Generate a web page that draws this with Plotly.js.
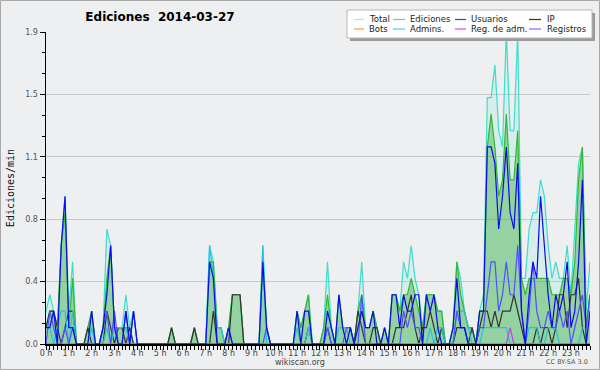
<!DOCTYPE html>
<html>
<head>
<meta charset="utf-8">
<script src="https://cdn.plot.ly/plotly-3.0.1.min.js"></script>
<style>
html,body{margin:0;padding:0;background:#eeeff0;}
#chart{width:600px;height:370px;}
</style>
</head>
<body>
<div id="chart"></div>
<script>
// 10-minute bins, 6 per hour, values in edits per minute
const hourLabels = ["0 h","1 h","2 h","3 h","4 h","5 h","6 h","7 h","8 h","9 h","10 h","11 h",
  "12 h","13 h","14 h","15 h","16 h","17 h","18 h","19 h","20 h","21 h","22 h","23 h"];

const total = [
  0.2,0.3,0.2,0.1,0.6,0.9,  0.2,0.5,0,0,0,0.1,  0.2,0,0,0.1,0.7,0.6,  0.1,0.1,0.1,0.3,0.1,0.2,
  0,0,0,0,0,0,  0,0,0,0.1,0,0,  0,0,0,0.1,0,0,  0,0.6,0.5,0.1,0.1,0,
  0.1,0.3,0.3,0.3,0,0,  0,0,0,0.6,0.1,0,  0,0,0,0,0,0,  0.2,0.1,0.2,0.3,0,0,
  0,0.1,0.5,0.1,0,0.3,  0.1,0.1,0.1,0,0.2,0.5,  0.1,0.1,0.2,0.1,0,0.1,  0,0.3,0.3,0.2,0.5,0.4,
  0.6,0.4,0.3,0.1,0.3,0.3,  0.3,0.2,0.2,0,0,0.1,  0.5,0.4,0.2,0.1,0.1,0,  0.2,0.3,1.5,1.5,1.7,1.3,
  1.2,1.9,1.3,1.3,1.9,0.4,  0.4,0.7,0.8,0.8,1.0,0.9,  0.6,0.4,0.5,0.4,0.4,0.6,  0.3,0.7,1.1,1.2,0.2,0.5
];
const ediciones = [
  0.1,0.2,0.2,0.1,0.6,0.8,  0.1,0.4,0,0,0,0.1,  0.2,0,0,0.1,0.4,0.6,  0.1,0.1,0.1,0.1,0.1,0,
  0,0,0,0,0,0,  0,0,0,0.1,0,0,  0,0,0,0.1,0,0,  0,0.5,0.5,0.1,0.1,0,
  0.1,0.3,0.3,0.3,0,0,  0,0,0,0.5,0.1,0,  0,0,0,0,0,0,  0.2,0.1,0.2,0.3,0,0,
  0,0.1,0.3,0.1,0,0.3,  0.1,0.1,0.1,0,0.2,0.3,  0.1,0.1,0.2,0.1,0,0.1,  0,0.3,0.3,0.2,0.3,0.3,
  0.4,0.3,0.2,0.1,0.3,0.3,  0.3,0.2,0.2,0,0,0.1,  0.5,0.3,0.2,0.1,0.1,0,  0.2,0.2,1.2,1.4,1.2,0.9,
  1.0,1.4,1.0,1.0,1.3,0.4,  0.3,0.4,0.4,0.4,0.4,0.4,  0.4,0.3,0.3,0.3,0.4,0.4,  0.3,0.5,1.0,1.2,0.1,0.3
];
const usuarios = [
  0.1,0.1,0.2,0,0.6,0.9,  0.1,0.1,0,0,0,0,  0.2,0,0,0.1,0.3,0.6,  0.1,0,0,0.2,0,0.2,
  0,0,0,0,0,0,  0,0,0,0,0,0,  0,0,0,0,0,0,  0,0.5,0.4,0,0,0,
  0.1,0,0,0,0,0,  0,0,0,0.5,0.1,0,  0,0,0,0,0,0,  0.2,0,0.2,0.2,0,0,
  0,0,0.2,0.1,0,0.3,  0.1,0,0.1,0,0.1,0.2,  0.1,0.1,0.2,0,0,0.1,  0,0.3,0.3,0.1,0.3,0.2,
  0.2,0.3,0.3,0,0.3,0.2,  0.3,0.1,0,0,0,0.1,  0.4,0.1,0.1,0,0,0,  0.2,0.2,1.2,1.2,1.1,0.7,
  0.9,1.2,0.8,0.7,1.1,0.2,  0,0.3,0.5,0.4,0.9,0.6,  0.3,0.1,0.3,0.2,0.3,0.5,  0.1,0.2,0.5,1.0,0,0.2
];
const ip = [
  0.1,0.2,0.2,0.1,0,0.1,  0.2,0.2,0,0,0,0.1,  0,0,0,0,0.2,0.1,  0,0.1,0.1,0,0.1,0,
  0,0,0,0,0,0,  0,0,0,0.1,0,0,  0,0,0,0.1,0,0,  0,0,0.2,0,0,0,
  0,0.3,0.3,0.3,0,0,  0,0,0,0,0,0,  0,0,0,0,0,0,  0,0,0,0.1,0,0,
  0,0,0.1,0,0,0,  0,0,0,0,0.2,0.1,  0,0,0.1,0.1,0,0,  0,0,0.1,0.1,0.1,0.2,
  0.3,0.1,0,0.1,0.1,0.2,  0.1,0,0.1,0,0,0,  0.1,0.1,0.1,0,0.1,0,  0.1,0.2,0.2,0.1,0.2,0.1,
  0.2,0.2,0.2,0.3,0.2,0.1,  0,0,0,0.1,0,0.1,  0.1,0,0.1,0.3,0.3,0.1,  0.3,0.3,0.4,0.1,0,0
];
const bots = new Array(144).fill(0);
const admins = [
  0.1,0.1,0,0.1,0.2,0.2,  0,0.2,0,0,0,0,  0.1,0,0,0,0.1,0,  0.1,0.1,0.1,0.1,0,0,
  0,0,0,0,0,0,  0,0,0,0,0,0,  0,0,0,0,0,0,  0,0.6,0.4,0.1,0.1,0,
  0,0,0,0,0,0,  0,0,0,0.6,0,0,  0,0,0,0,0,0,  0.1,0,0,0.1,0,0,
  0,0,0.1,0.1,0,0.1,  0.1,0.1,0,0,0,0,  0,0,0,0,0,0,  0,0,0,0,0,0,
  0,0,0,0,0,0.1,  0,0.1,0.1,0,0,0,  0.2,0.2,0.2,0.1,0,0,  0,0.1,0.1,0.1,0.1,0.1,
  0.1,0.1,0,0,0,0,  0,0.1,0.1,0.1,0,0,  0.1,0.1,0.1,0,0,0,  0,0,0,0.1,0.1,0.3
];
const regAdm = [
  0,0,0,0,0,0,  0,0,0,0,0,0,  0,0,0,0,0,0,  0,0,0,0,0,0,
  0,0,0,0,0,0,  0,0,0,0,0,0,  0,0,0,0,0,0,  0,0,0,0,0,0,
  0,0,0,0,0,0,  0,0,0,0,0,0,  0,0,0,0,0,0,  0,0,0,0,0,0,
  0,0,0,0,0,0,  0,0,0,0,0,0,  0,0,0,0,0,0,  0,0,0,0,0,0,
  0,0,0,0,0,0,  0,0,0,0,0,0,  0,0,0,0,0,0,  0,0,0,0,0,0,
  0,0,0.1,0,0,0,  0,0,0,0,0,0,  0,0,0,0,0,0,  0,0,0,0,0,0
];
const registros = [
  0,0.2,0.1,0,0,0.1,  0,0.1,0,0,0,0,  0,0,0,0.1,0.2,0,  0.2,0,0,0.2,0,0.2,
  0,0,0,0,0,0,  0,0,0,0,0,0,  0,0,0,0,0,0,  0,0,0,0,0,0,
  0.1,0,0,0,0,0,  0,0,0,0,0.1,0,  0,0,0,0,0,0,  0,0,0,0,0,0,
  0,0,0.1,0,0,0,  0,0.1,0.1,0,0,0.3,  0,0,0,0,0,0,  0,0,0,0,0.2,0.1,
  0.2,0.1,0.1,0,0,0,  0,0,0,0,0,0,  0.2,0.1,0.1,0,0,0,  0.1,0.1,0.3,0.5,0.5,0.2,
  0.3,0.5,0.3,0.3,0.6,0.2,  0,0.2,0.5,0.2,0.1,0.1,  0.2,0.1,0.1,0.2,0.1,0.2,  0,0.1,0.2,0.3,0.1,0.3
];

const yTickVals = [0, 0.38, 0.76, 1.14, 1.52, 1.9];
const yTickText = ["0.0","0.4","0.8","1.1","1.5","1.9"];

const xs = total.map((_, i) => i / 6);

const series = [
  {name:"Total", y: total, color:"#40dccc", fill:"rgba(64,224,208,0.13)"},
  {name:"Ediciones", y: ediciones, color:"#33b833", fill:"rgba(51,170,51,0.4)"},
  {name:"IP", y: ip, color:"#333333"},
  {name:"Bots", y: bots, color:"#ffa020"},
  {name:"Admins.", y: admins, color:"#22c4e0"},
  {name:"Reg. de adm.", y: regAdm, color:"#c040f0"},
  {name:"Registros", y: registros, color:"#5050ff"},
  {name:"Usuarios", y: usuarios, color:"#0a0aee"}
];

const traces = series.map(s => ({
  type: "scatter", mode: "lines", x: xs, y: s.y, name: s.name,
  line: {color: s.color, width: 1.2},
  fill: s.fill ? "tozeroy" : "none",
  fillcolor: s.fill || undefined,
  showlegend: false, hoverinfo: "skip"
}));

// pixel -> paper helpers (plot area 46..590 x 32..344)
const L = 46, R = 590, T = 32, B = 344;
const xp = x => (x - L) / (R - L);
const yp = y => (B - y) / (B - T);

const shapes = [
  {type:"rect", xref:"paper", yref:"paper", x0:xp(0.5), x1:xp(599.5), y0:yp(369.5), y1:yp(0.5),
   line:{color:"#a8a8a8", width:1}, fillcolor:"rgba(0,0,0,0)", layer:"below"},
  {type:"rect", xref:"paper", yref:"paper", x0:xp(350), x1:xp(595), y0:yp(41), y1:yp(13),
   line:{width:0}, fillcolor:"#9a9a9a", layer:"above"},
  {type:"rect", xref:"paper", yref:"paper", x0:xp(347), x1:xp(592), y0:yp(38), y1:yp(10),
   line:{color:"#b8b8b8", width:1}, fillcolor:"#ffffff", layer:"above"}
];
const annotations = [];

const legendItems = [
  {name:"Total", color:"#a8ece4", col:0, row:0},
  {name:"Ediciones", color:"#7ccf7c", col:1, row:0},
  {name:"Usuarios", color:"#3434ff", col:2, row:0},
  {name:"IP", color:"#333333", col:3, row:0},
  {name:"Bots", color:"#ffa030", col:0, row:1},
  {name:"Admins.", color:"#40d4e6", col:1, row:1},
  {name:"Reg. de adm.", color:"#e040f0", col:2, row:1},
  {name:"Registros", color:"#7070ff", col:3, row:1}
];
const colLine = [[354,364],[393,405],[455,466],[529,541]];
const colText = [367, 408, 469, 545];
const rowY = [19.5, 29];
legendItems.forEach(it => {
  shapes.push({type:"line", xref:"paper", yref:"paper",
    x0:xp(colLine[it.col][0]), x1:xp(colLine[it.col][1]),
    y0:yp(rowY[it.row]), y1:yp(rowY[it.row]),
    line:{color:it.color, width:1.2}, layer:"above"});
  annotations.push({xref:"paper", yref:"paper", x:xp(colText[it.col]), y:yp(rowY[it.row]),
    xanchor:"left", yanchor:"middle", showarrow:false, text:it.name,
    font:{family:"DejaVu Sans", size:8.5, color:"#222"}});
});

annotations.push({xref:"paper", yref:"paper", x:xp(300), y:yp(362), xanchor:"center", yanchor:"middle",
  showarrow:false, text:"wikiscan.org", font:{family:"DejaVu Sans", size:8, color:"#444"}});
annotations.push({xref:"paper", yref:"paper", x:xp(590), y:yp(362), xanchor:"right", yanchor:"middle",
  showarrow:false, text:"CC BY-SA 3.0", font:{family:"DejaVu Sans", size:6.5, color:"#555"}});

const layout = {
  width: 600, height: 370,
  margin: {l: L, r: 600 - R, t: T, b: 370 - B, pad: 0},
  paper_bgcolor: "#eeeff0", plot_bgcolor: "#eeeff0",
  showlegend: false,
  title: {text: "Ediciones\u00a0 2014-03-27", x: 160/600, xanchor: "center", xref: "container",
          y: 1 - 17/370, yanchor: "middle", yref: "container",
          font: {family: "DejaVu Sans", size: 12, color: "#000", weight: "bold"}},
  xaxis: {
    range: [0, 143/6], tickmode: "array", tickvals: hourLabels.map((_, h) => h), ticktext: hourLabels,
    showgrid: false, zeroline: false, showline: true, linecolor: "#000", linewidth: 1.5,
    ticks: "outside", ticklen: 4, tickwidth: 1, tickcolor: "#000", ticklabelstandoff: -3,
    tickfont: {family: "DejaVu Sans", size: 8, color: "#444"},
    minor: {dtick: 1/6, tick0: 0, ticks: "outside", ticklen: 4, tickwidth: 1, tickcolor: "#000", showgrid: false},
    fixedrange: true
  },
  yaxis: {
    range: [0, 1.9], tickmode: "array", tickvals: yTickVals, ticktext: yTickText,
    showgrid: true, gridcolor: "#c9c9c9", gridwidth: 1, zeroline: false,
    showline: true, linecolor: "#000", linewidth: 1.5,
    ticks: "outside", ticklen: 5, tickwidth: 1, tickcolor: "#000",
    tickfont: {family: "DejaVu Sans", size: 8, color: "#555"},
    minor: {tickmode: "linear", tick0: 0, dtick: 0.38/3, ticks: "outside", ticklen: 3, tickwidth: 1, tickcolor: "#000", showgrid: false},
    title: {text: "Ediciones/min", font: {family: "DejaVu Sans Mono", size: 10, color: "#111"}, standoff: 8},
    fixedrange: true
  },
  shapes: shapes,
  annotations: annotations
};

Plotly.newPlot("chart", traces, layout, {staticPlot: true, displayModeBar: false});
</script>
</body>
</html>
